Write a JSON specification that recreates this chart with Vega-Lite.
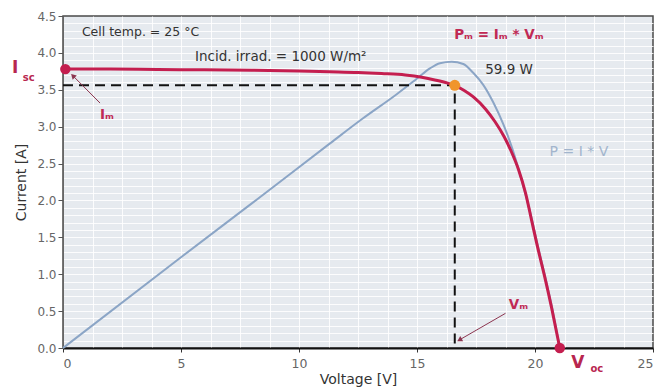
{
  "$schema": "https://vega.github.io/schema/vega-lite/v6.json",
  "width": 590,
  "height": 332,
  "autosize": {"type": "none"},
  "padding": {"left": 63, "top": 16, "right": 3, "bottom": 44},
  "background": "white",
  "config": {
    "font": "DejaVu Sans",
    "view": {"fill": "#e6eaef", "stroke": "#4a4a4a", "strokeWidth": 1.5}
  },
  "datasets": {
    "iv": [
      {"V": 0, "I": 3.78}, {"V": 2, "I": 3.78}, {"V": 4, "I": 3.775}, {"V": 6, "I": 3.77},
      {"V": 8, "I": 3.765}, {"V": 10, "I": 3.755}, {"V": 11.3, "I": 3.745}, {"V": 12.5, "I": 3.735},
      {"V": 13.5, "I": 3.72}, {"V": 14.5, "I": 3.7}, {"V": 15.2, "I": 3.67}, {"V": 15.8, "I": 3.63},
      {"V": 16.3, "I": 3.59}, {"V": 16.6, "I": 3.56}, {"V": 17.0, "I": 3.49}, {"V": 17.4, "I": 3.4},
      {"V": 17.9, "I": 3.24}, {"V": 18.3, "I": 3.07}, {"V": 18.7, "I": 2.86}, {"V": 19.0, "I": 2.66},
      {"V": 19.3, "I": 2.42}, {"V": 19.6, "I": 2.1}, {"V": 19.85, "I": 1.74}, {"V": 20.1, "I": 1.38},
      {"V": 20.4, "I": 0.98}, {"V": 20.7, "I": 0.55}, {"V": 21.05, "I": 0}
    ],
    "power": [
      {"V": 0, "I": 0}, {"V": 5, "I": 1.23}, {"V": 8, "I": 1.96}, {"V": 11.3, "I": 2.77},
      {"V": 12.7, "I": 3.11}, {"V": 14.14, "I": 3.44}, {"V": 14.99, "I": 3.65}, {"V": 15.55, "I": 3.79},
      {"V": 15.97, "I": 3.86}, {"V": 16.47, "I": 3.88}, {"V": 16.96, "I": 3.85}, {"V": 17.38, "I": 3.73},
      {"V": 17.8, "I": 3.57}, {"V": 18.23, "I": 3.33}, {"V": 18.66, "I": 3.03}, {"V": 19.01, "I": 2.73},
      {"V": 19.37, "I": 2.35}, {"V": 19.87, "I": 1.74}, {"V": 20.12, "I": 1.38}, {"V": 20.42, "I": 0.98},
      {"V": 20.72, "I": 0.55}, {"V": 21.05, "I": 0}
    ],
    "dash": [{"V": 0, "I": 3.56, "o": 1}, {"V": 16.6, "I": 3.56, "o": 2}, {"V": 16.6, "I": 0, "o": 3}],
    "dots": [{"V": 0.1, "I": 3.78}, {"V": 21.05, "I": 0}],
    "mpp": [{"V": 16.6, "I": 3.56}],
    "arrIm": [{"V": 1.57, "I": 3.32, "o": 1}, {"V": 0.42, "I": 3.69, "o": 2}],
    "headIm": [{"V": 0.42, "I": 3.69}],
    "arrVm": [{"V": 18.75, "I": 0.47, "o": 1}, {"V": 16.8, "I": 0.11, "o": 2}],
    "headVm": [{"V": 16.8, "I": 0.11}],
    "notes": [
      {"t": "Cell temp. = 25 °C", "V": 0.8, "I": 4.28}
    ],
    "notes2": [
      {"t": "Incid. irrad. = 1000 W/m²", "V": 5.59, "I": 3.94}
    ],
    "watt": [{"t": "59.9 W", "V": 18.9, "I": 3.77}],
    "pformula": [{"t": "P = I * V", "V": 21.86, "I": 2.66}],
    "redbig": [{"t": "I", "V": -2.03, "I": 3.79}, {"t": "V", "V": 21.82, "I": -0.2}],
    "redsub": [{"t": "sc", "V": -1.45, "I": 3.66}, {"t": "oc", "V": 22.62, "I": -0.28}],
    "redmid": [
      {"t": "Iₘ", "V": 1.86, "I": 3.16},
      {"t": "Vₘ", "V": 19.3, "I": 0.58},
      {"t": "Pₘ = Iₘ * Vₘ", "V": 18.47, "I": 4.24}
    ]
  },
  "resolve": {"axis": {"x": "independent", "y": "independent"}},
  "layer": [
    {
      "data": {"name": "dots"},
      "mark": {"type": "point", "opacity": 0},
      "encoding": {
        "x": {"field": "V", "type": "quantitative", "scale": {"domain": [0, 25], "nice": false},
          "axis": {"orient": "top", "values": [1.25, 2.5, 3.75, 5, 6.25, 7.5, 8.75, 10, 11.25, 12.5, 13.75, 15, 16.25, 17.5, 18.75, 20, 21.25, 22.5, 23.75],
            "grid": true, "gridColor": "#ffffff", "gridWidth": 1, "gridOpacity": 0.85, "labels": false, "ticks": false, "domain": false, "title": null}},
        "y": {"field": "I", "type": "quantitative", "scale": {"domain": [0, 4.5], "nice": false},
          "axis": {"orient": "right", "values": [0.1, 0.2, 0.3, 0.4, 0.5, 0.6, 0.7, 0.8, 0.9, 1.0, 1.1, 1.2, 1.3, 1.4, 1.5, 1.6, 1.7, 1.8, 1.9, 2.0, 2.1, 2.2, 2.3, 2.4, 2.5, 2.6, 2.7, 2.8, 2.9, 3.0, 3.1, 3.2, 3.3, 3.4, 3.5, 3.6, 3.7, 3.8, 3.9, 4.0, 4.1, 4.2, 4.3, 4.4],
            "grid": true, "gridColor": "#ffffff", "gridWidth": 1, "gridOpacity": 0.85, "labels": false, "ticks": false, "domain": false, "title": null}}
      }
    },
    {
      "data": {"name": "power"},
      "mark": {"type": "line", "color": "#8ba5c6", "strokeWidth": 2, "interpolate": "monotone"},
      "encoding": {
        "x": {"field": "V", "type": "quantitative", "scale": {"domain": [0, 25], "nice": false},
          "axis": {"orient": "bottom", "values": [0, 5, 10, 15, 20, 25], "grid": false, "title": "Voltage [V]",
            "labelColor": "#666666", "labelFontSize": 12.5, "tickColor": "#333333", "tickSize": 4, "labelPadding": 5,
            "domainColor": "#111111", "domainWidth": 2, "titleFontSize": 14, "titleFontWeight": "normal", "titleColor": "#333333", "titlePadding": 3}},
        "y": {"field": "I", "type": "quantitative", "scale": {"domain": [0, 4.5], "nice": false},
          "axis": {"orient": "left", "values": [0, 0.5, 1, 1.5, 2, 2.5, 3, 3.5, 4, 4.5], "format": ".1f", "grid": false, "title": "Current [A]",
            "labelColor": "#666666", "labelFontSize": 12, "tickColor": "#555555", "tickSize": 5, "labelPadding": 2,
            "domainColor": "#666666", "domainWidth": 1, "titleFontSize": 14, "titleFontWeight": "normal", "titleColor": "#333333", "titlePadding": 8}}
      }
    },
    {
      "data": {"name": "dash"},
      "mark": {"type": "line", "color": "#111111", "strokeWidth": 2, "strokeDash": [10, 6]},
      "encoding": {
        "x": {"field": "V", "type": "quantitative", "axis": null},
        "y": {"field": "I", "type": "quantitative", "axis": null},
        "order": {"field": "o"}
      }
    },
    {
      "data": {"name": "iv"},
      "mark": {"type": "line", "color": "#c41e4f", "strokeWidth": 3, "interpolate": "monotone"},
      "encoding": {
        "x": {"field": "V", "type": "quantitative", "axis": null},
        "y": {"field": "I", "type": "quantitative", "axis": null}
      }
    },
    {
      "data": {"name": "dots"},
      "mark": {"type": "point", "filled": true, "color": "#c41e4f", "size": 110, "opacity": 1},
      "encoding": {
        "x": {"field": "V", "type": "quantitative", "axis": null},
        "y": {"field": "I", "type": "quantitative", "axis": null}
      }
    },
    {
      "data": {"name": "mpp"},
      "mark": {"type": "point", "filled": true, "color": "#f0952c", "size": 120, "opacity": 1},
      "encoding": {
        "x": {"field": "V", "type": "quantitative", "axis": null},
        "y": {"field": "I", "type": "quantitative", "axis": null}
      }
    },
    {
      "data": {"name": "arrIm"},
      "mark": {"type": "line", "color": "#8c3550", "strokeWidth": 1},
      "encoding": {
        "x": {"field": "V", "type": "quantitative", "axis": null},
        "y": {"field": "I", "type": "quantitative", "axis": null},
        "order": {"field": "o"}
      }
    },
    {
      "data": {"name": "headIm"},
      "mark": {"type": "point", "shape": "triangle-up", "filled": true, "color": "#8c3550", "size": 35, "angle": 315, "opacity": 1},
      "encoding": {
        "x": {"field": "V", "type": "quantitative", "axis": null},
        "y": {"field": "I", "type": "quantitative", "axis": null}
      }
    },
    {
      "data": {"name": "arrVm"},
      "mark": {"type": "line", "color": "#8c3550", "strokeWidth": 1},
      "encoding": {
        "x": {"field": "V", "type": "quantitative", "axis": null},
        "y": {"field": "I", "type": "quantitative", "axis": null},
        "order": {"field": "o"}
      }
    },
    {
      "data": {"name": "headVm"},
      "mark": {"type": "point", "shape": "triangle-up", "filled": true, "color": "#8c3550", "size": 35, "angle": 241, "opacity": 1},
      "encoding": {
        "x": {"field": "V", "type": "quantitative", "axis": null},
        "y": {"field": "I", "type": "quantitative", "axis": null}
      }
    },
    {
      "data": {"name": "notes"},
      "mark": {"type": "text", "align": "left", "baseline": "middle", "fontSize": 12.5, "color": "#333333"},
      "encoding": {
        "x": {"field": "V", "type": "quantitative", "axis": null},
        "y": {"field": "I", "type": "quantitative", "axis": null},
        "text": {"field": "t"}
      }
    },
    {
      "data": {"name": "notes2"},
      "mark": {"type": "text", "align": "left", "baseline": "middle", "fontSize": 13.5, "color": "#333333"},
      "encoding": {
        "x": {"field": "V", "type": "quantitative", "axis": null},
        "y": {"field": "I", "type": "quantitative", "axis": null},
        "text": {"field": "t"}
      }
    },
    {
      "data": {"name": "watt"},
      "mark": {"type": "text", "align": "center", "baseline": "middle", "fontSize": 13.5, "color": "#333333"},
      "encoding": {
        "x": {"field": "V", "type": "quantitative", "axis": null},
        "y": {"field": "I", "type": "quantitative", "axis": null},
        "text": {"field": "t"}
      }
    },
    {
      "data": {"name": "pformula"},
      "mark": {"type": "text", "align": "center", "baseline": "middle", "fontSize": 14, "color": "#a2b5cd"},
      "encoding": {
        "x": {"field": "V", "type": "quantitative", "axis": null},
        "y": {"field": "I", "type": "quantitative", "axis": null},
        "text": {"field": "t"}
      }
    },
    {
      "data": {"name": "redbig"},
      "mark": {"type": "text", "align": "center", "baseline": "middle", "fontSize": 17, "fontWeight": "bold", "color": "#b8264f"},
      "encoding": {
        "x": {"field": "V", "type": "quantitative", "axis": null},
        "y": {"field": "I", "type": "quantitative", "axis": null},
        "text": {"field": "t"}
      }
    },
    {
      "data": {"name": "redsub"},
      "mark": {"type": "text", "align": "center", "baseline": "middle", "fontSize": 10, "fontWeight": "bold", "color": "#b8264f"},
      "encoding": {
        "x": {"field": "V", "type": "quantitative", "axis": null},
        "y": {"field": "I", "type": "quantitative", "axis": null},
        "text": {"field": "t"}
      }
    },
    {
      "data": {"name": "redmid"},
      "mark": {"type": "text", "align": "center", "baseline": "middle", "fontSize": 13.5, "fontWeight": "bold", "color": "#c02a55"},
      "encoding": {
        "x": {"field": "V", "type": "quantitative", "axis": null},
        "y": {"field": "I", "type": "quantitative", "axis": null},
        "text": {"field": "t"}
      }
    }
  ]
}
